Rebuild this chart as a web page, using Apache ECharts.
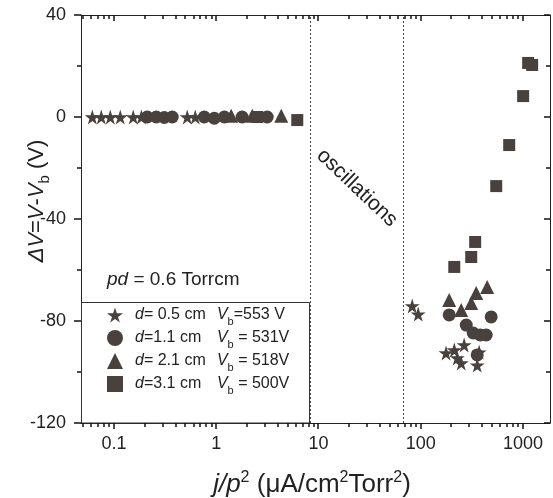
<!DOCTYPE html>
<html><head><meta charset="utf-8">
<script src="https://cdn.jsdelivr.net/npm/echarts@6/dist/echarts.min.js"></script>
<style>html,body{margin:0;padding:0;background:#fff}#c{width:553px;height:498px}</style>
</head><body><div id="c"></div>
<script>
// ---- tick values ----
const xMajorTicks = [0.1, 1, 10, 100, 1000];
const xMinorTicks = [0.05, 0.06, 0.07, 0.08, 0.09,
  0.2, 0.3, 0.4, 0.5, 0.6, 0.7, 0.8, 0.9,
  2, 3, 4, 5, 6, 7, 8, 9,
  20, 30, 40, 50, 60, 70, 80, 90,
  200, 300, 400, 500, 600, 700, 800, 900];
const yMajorTicks = [-120, -80, -40, 0, 40];
const yMinorTicks = [-100, -60, -20, 20];
const oscillationBounds = [8.3, 67];

// ---- series (x = j/p^2, y = dV) ----
const seriesNames = ['d= 0.5 cm  Vb=553 V', 'd=1.1 cm  Vb = 531V', 'd= 2.1 cm  Vb = 518V', 'd=3.1 cm  Vb = 500V'];
const starX = [0.0613, 0.075, 0.0919, 0.115, 0.154, 0.185, 0.52, 0.623, 82.6, 94.5, 177, 213, 266, 228, 249, 373, 357];
const starY = [0, 0, 0, 0, 0, 0, 0, 0, -74.1, -77.3, -92.5, -91.4, -89.4, -94.5, -96.5, -92.2, -97.3];
const circleX = [0.211, 0.259, 0.31, 0.371, 0.763, 0.956, 1.2, 1.79, 3.15, 190, 279, 326, 382, 437, 489, 357];
const circleY = [0, 0, -0.2, 0, 0, -0.5, 0, 0, 0, -77.6, -81.6, -84.7, -85.5, -85.5, -78.4, -93.3];
const triangleX = [1.4, 2.25, 4.32, 190, 249, 312, 349, 447];
const triangleY = [0.5, 0.5, 0.5, -71.8, -75.7, -72.9, -69, -66.7];
const squareX = [2.52, 6.2, 213, 312, 341, 548, 734, 1005, 1125, 1231];
const squareY = [0, -1.2, -58.8, -54.9, -49, -27.1, -11, 8.2, 21.2, 20.4];

const X_MIN = 0.0475, X_MAX = 1840, Y_MIN = -120, Y_MAX = 40;
const FONT = '"Liberation Sans", Arial, sans-serif';
const INK = '#222';
const MARK = '#48413d';
const STAR = 'path://M50,0 L61,35 L98,35 L68,57 L79,91 L50,70 L21,91 L32,57 L2,35 L39,35 Z';

function pairs(xs, ys) { return xs.map((x, i) => [x, ys[i]]); }
function fmt(v) { return String(+(+v).toPrecision(6)); }

const legendRich = {
  d: {fontStyle: 'italic', fontSize: 16, fontFamily: FONT, color: INK, lineHeight: 24, padding: [0, 0, 0, 7]},
  n: {fontSize: 16, fontFamily: FONT, color: INK, lineHeight: 24, width: 73},
  v: {fontStyle: 'italic', fontSize: 16, fontFamily: FONT, color: INK, lineHeight: 24},
  sub: {fontSize: 11, fontFamily: FONT, color: INK, lineHeight: 12, verticalAlign: 'bottom'},
  t: {fontSize: 16, fontFamily: FONT, color: INK, lineHeight: 24}
};
const legendText = [
  '{d|d}{n|= 0.5 cm}{v|V}{sub|b}{t|=553 V}',
  '{d|d}{n|=1.1 cm}{v|V}{sub|b}{t| = 531V}',
  '{d|d}{n|= 2.1 cm}{v|V}{sub|b}{t| = 518V}',
  '{d|d}{n|=3.1 cm}{v|V}{sub|b}{t| = 500V}'
];

const xBase = {type: 'log', min: X_MIN, max: X_MAX, gridIndex: 0,
  splitLine: {show: false}, minorTick: {show: false}, minorSplitLine: {show: false}, axisTick: {show: false},
  axisLine: {show: true, onZero: false, lineStyle: {color: INK, width: 1}}};
const yBase = {type: 'value', min: Y_MIN, max: Y_MAX, interval: 40,
  axisLine: {show: true, onZero: false, lineStyle: {color: INK, width: 1}},
  axisTick: {show: false}, minorTick: {show: false}, splitLine: {show: false}, minorSplitLine: {show: false}};

const baseGraphic = [
  {type: 'rect', shape: {x: 81.5, y: 302.5, width: 228, height: 120.5}, style: {fill: 'none', stroke: '#333', lineWidth: 1}, z: 10},
  {type: 'text', x: 107, y: 280, style: {text: '{i|pd} = 0.6 Torrcm', verticalAlign: 'middle', fontSize: 19, fontFamily: FONT, fill: INK,
    rich: {i: {fontStyle: 'italic', fontSize: 19, fontFamily: FONT, fill: INK}}}, z: 10},
  {type: 'text', x: 357, y: 188, rotation: -0.76, style: {text: 'oscillations', align: 'center', verticalAlign: 'middle', fontSize: 21, fontFamily: FONT, fill: INK}, z: 10},
  {type: 'text', x: 37, y: 201, rotation: Math.PI / 2, style: {text: '{i|ΔV}{t|=}{i|V}{t|-}{i|V}{sub|b}{t| (V)}', align: 'center', verticalAlign: 'middle',
    fontSize: 22, fontFamily: FONT, fill: INK,
    rich: {i: {fontStyle: 'italic', fontSize: 22, fontFamily: FONT, lineHeight: 30},
           t: {fontSize: 22, fontFamily: FONT, lineHeight: 30},
           sub: {fontSize: 15, fontFamily: FONT, lineHeight: 16, verticalAlign: 'bottom'}}}, z: 10},
  {type: 'text', x: 312, y: 485, style: {text: '{i|j/p}{sup|2}{t| (μA/cm}{sup|2}{t|Torr}{sup|2}{t|)}', align: 'center', verticalAlign: 'middle',
    fontSize: 26, fontFamily: FONT, fill: INK,
    rich: {i: {fontStyle: 'italic', fontSize: 26, fontFamily: FONT, lineHeight: 30},
           t: {fontSize: 26, fontFamily: FONT, lineHeight: 30},
           sup: {fontSize: 16, fontFamily: FONT, lineHeight: 16, verticalAlign: 'top'}}}, z: 10}
];

const chart = echarts.init(document.getElementById('c'), null, {renderer: 'canvas'});
chart.setOption({
  animation: false,
  backgroundColor: '#fff',
  grid: {left: 81, right: 3, top: 15, bottom: 75, containLabel: false},
  xAxis: [
    Object.assign({}, xBase, {position: 'bottom',
      axisLabel: {show: true, customValues: xMajorTicks, formatter: fmt, fontSize: 18, fontFamily: FONT, color: INK, margin: 12}}),
    Object.assign({}, xBase, {position: 'top', axisLabel: {show: false}})
  ],
  yAxis: [
    Object.assign({}, yBase, {position: 'left',
      axisLabel: {fontSize: 18, fontFamily: FONT, color: INK, margin: 15}}),
    Object.assign({}, yBase, {position: 'right', axisLabel: {show: false}})
  ],
  legend: {
    orient: 'vertical', left: 107, top: 307, padding: 0, itemWidth: 16, itemHeight: 16, itemGap: 3,
    data: seriesNames,
    formatter: name => legendText[seriesNames.indexOf(name)],
    textStyle: {fontSize: 16, fontFamily: FONT, color: INK, rich: legendRich}
  },
  series: [
    {name: seriesNames[0], type: 'scatter', xAxisIndex: 0, yAxisIndex: 0, symbol: STAR, symbolSize: 15,
      itemStyle: {color: MARK, opacity: 1}, data: pairs(starX, starY), z: 3,
      markLine: {silent: true, symbol: ['none', 'none'], label: {show: false},
        lineStyle: {type: [2, 2], color: '#444', width: 1},
        data: oscillationBounds.map(v => ({xAxis: v}))}},
    {name: seriesNames[1], type: 'scatter', xAxisIndex: 0, yAxisIndex: 0, symbol: 'circle', symbolSize: 13,
      itemStyle: {color: MARK, opacity: 1}, data: pairs(circleX, circleY), z: 3},
    {name: seriesNames[2], type: 'scatter', xAxisIndex: 0, yAxisIndex: 0, symbol: 'triangle', symbolSize: 14,
      itemStyle: {color: MARK, opacity: 1}, data: pairs(triangleX, triangleY), z: 3},
    {name: seriesNames[3], type: 'scatter', xAxisIndex: 0, yAxisIndex: 0, symbol: 'rect', symbolSize: 12,
      itemStyle: {color: MARK, opacity: 1}, data: pairs(squareX, squareY), z: 3}
  ],
  graphic: baseGraphic
});

// tick marks: positions come from the chart's own scales (convertToPixel), drawn as thin filled rects
const finder = {gridIndex: 0};
const tickEls = [];
function tickRect(x, y, w, h) {
  return {type: 'rect', shape: {x: x, y: y, width: w, height: h}, style: {fill: '#111'}, z: 20, silent: true};
}
function addXTicks(values, lenBottom, lenTop) {
  values.forEach(v => {
    const b = chart.convertToPixel(finder, [v, Y_MIN]);
    const t = chart.convertToPixel(finder, [v, Y_MAX]);
    const x = Math.round(b[0]) - 0.75;
    tickEls.push(tickRect(x, Math.round(b[1]), 1.5, lenBottom));
    tickEls.push(tickRect(x, Math.round(t[1]), 1.5, lenTop));
  });
}
function addYTicks(values, lenLeft, lenRight) {
  values.forEach(v => {
    const l = chart.convertToPixel(finder, [X_MIN, v]);
    const r = chart.convertToPixel(finder, [X_MAX, v]);
    const y = Math.round(l[1]) - 0.75;
    tickEls.push(tickRect(Math.round(l[0]) - lenLeft, y, lenLeft, 1.5));
    tickEls.push(tickRect(Math.round(r[0]) - lenRight, y, lenRight, 1.5));
  });
}
addXTicks(xMajorTicks, 6, 6);
addXTicks(xMinorTicks, 4, 4);
addYTicks(yMajorTicks, 7, 6);
addYTicks(yMinorTicks, 4, 4);
chart.setOption({graphic: baseGraphic.concat(tickEls)});
</script>
</body></html>
